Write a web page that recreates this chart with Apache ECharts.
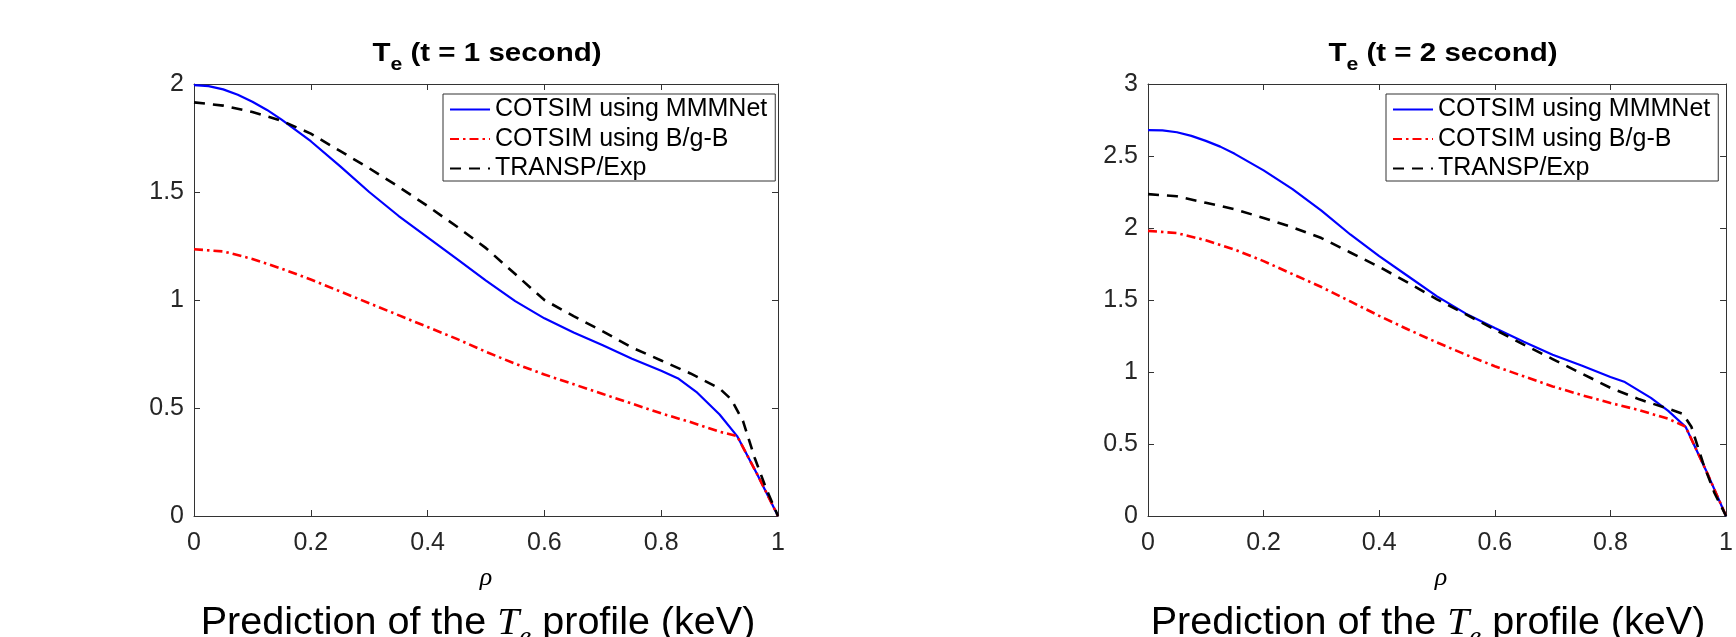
<!DOCTYPE html>
<html>
<head>
<meta charset="utf-8">
<script src="https://cdn.jsdelivr.net/npm/echarts@6/dist/echarts.min.js"></script>
<style>
html,body{margin:0;padding:0;background:#fff;}
#chart{width:1736px;height:637px;}
</style>
</head>
<body>
<div id="chart"></div>
<script>
// ---- data ----
const seriesNames = ['COTSIM using MMMNet', 'COTSIM using B/g-B', 'TRANSP/Exp'];
const xTicks = [0, 0.2, 0.4, 0.6, 0.8, 1];
const yTicks1 = [0, 0.5, 1, 1.5, 2];
const yTicks2 = [0, 0.5, 1, 1.5, 2, 2.5, 3];
const titles = ['1', '2'];

// t = 1 second
const rhoMMM1 = [0,0.025,0.05,0.075,0.1,0.125,0.15,0.2,0.25,0.3,0.35,0.4,0.45,0.5,0.55,0.6,0.65,0.7,0.75,0.8,0.83,0.86,0.9,0.93,0.965,1];
const mmm1    = [1.995,1.99,1.975,1.95,1.918,1.88,1.835,1.735,1.62,1.50,1.39,1.29,1.19,1.09,0.995,0.915,0.85,0.79,0.728,0.672,0.635,0.575,0.47,0.37,0.19,0];
const rhoBgb1 = [0,0.05,0.1,0.15,0.2,0.25,0.3,0.35,0.4,0.45,0.5,0.55,0.6,0.65,0.7,0.75,0.8,0.85,0.9,0.93,0.965,1];
const bgb1    = [1.235,1.225,1.19,1.145,1.095,1.04,0.985,0.93,0.875,0.82,0.76,0.705,0.655,0.61,0.565,0.52,0.475,0.435,0.39,0.37,0.19,0];
const rhoExp1 = [0,0.05,0.1,0.15,0.2,0.25,0.3,0.35,0.4,0.45,0.5,0.55,0.6,0.65,0.7,0.75,0.8,0.85,0.9,0.92,0.94,0.96,0.98,1];
const exp1    = [1.915,1.90,1.87,1.83,1.77,1.69,1.61,1.525,1.435,1.34,1.24,1.12,1.00,0.925,0.855,0.78,0.72,0.66,0.59,0.54,0.44,0.27,0.125,0];

// t = 2 second
const rhoMMM2 = [0,0.025,0.05,0.075,0.1,0.125,0.15,0.2,0.25,0.3,0.35,0.4,0.45,0.5,0.55,0.6,0.65,0.7,0.75,0.8,0.825,0.87,0.9,0.93,0.965,1];
const mmm2    = [2.68,2.678,2.665,2.64,2.605,2.565,2.515,2.40,2.27,2.12,1.955,1.805,1.665,1.525,1.405,1.305,1.21,1.12,1.045,0.965,0.93,0.82,0.73,0.62,0.32,0];
const rhoBgb2 = [0,0.05,0.1,0.15,0.2,0.25,0.3,0.35,0.4,0.45,0.5,0.55,0.6,0.65,0.7,0.75,0.8,0.85,0.9,0.93,0.965,1];
const bgb2    = [1.98,1.965,1.915,1.85,1.77,1.68,1.59,1.49,1.39,1.295,1.205,1.12,1.04,0.97,0.90,0.84,0.785,0.735,0.675,0.62,0.32,0];
const rhoExp2 = [0,0.05,0.1,0.15,0.2,0.25,0.3,0.35,0.4,0.45,0.5,0.55,0.6,0.65,0.7,0.75,0.8,0.85,0.9,0.925,0.94,0.96,0.98,1];
const exp2    = [2.235,2.22,2.175,2.13,2.07,2.005,1.93,1.83,1.73,1.62,1.505,1.40,1.295,1.19,1.09,0.99,0.89,0.81,0.745,0.71,0.62,0.37,0.16,0];

// ---- build ----
const pairs = (xs, ys) => xs.map((x, i) => [x, ys[i]]);
const axisColor = '#333333';
const labelColor = '#262626';
const sans = 'Liberation Sans';

const grids = [
  {left: 194, width: 584, top: 84, height: 432},
  {left: 1148, width: 586, top: 84, height: 432}
];

function xAxes(gi, pos, show) {
  return {
    type: 'value', gridIndex: gi, position: pos,
    min: xTicks[0], max: xTicks[xTicks.length - 1], interval: 0.2,
    axisLine: {show: true, onZero: false, lineStyle: {color: axisColor, width: 1}},
    axisTick: {show: true, inside: true, length: 6, lineStyle: {color: axisColor}},
    axisLabel: {show: show, color: labelColor, fontSize: 25, fontFamily: sans, margin: 15},
    splitLine: {show: false}
  };
}
function yAxes(gi, pos, show, ticks) {
  return {
    type: 'value', gridIndex: gi, position: pos,
    min: ticks[0], max: ticks[ticks.length - 1], interval: 0.5,
    axisLine: {show: true, onZero: false, lineStyle: {color: axisColor, width: 1}},
    axisTick: {show: true, inside: true, length: 6, lineStyle: {color: axisColor}},
    axisLabel: {show: show, color: labelColor, fontSize: 25, fontFamily: sans, margin: 10},
    splitLine: {show: false}
  };
}

const styles = [
  {color: '#0000ff', width: 2.2, type: 'solid'},
  {color: '#ff0000', width: 2.6, type: [9, 4, 2.5, 4]},
  {color: '#000000', width: 2.6, type: [11, 8]}
];

function mkSeries(gi, datas) {
  return datas.map((d, i) => ({
    name: seriesNames[i], type: 'line', xAxisIndex: gi * 2, yAxisIndex: gi * 2,
    data: d, showSymbol: false, symbol: 'none', smooth: false,
    lineStyle: styles[i], itemStyle: {color: styles[i].color},
    animation: false, silent: true
  }));
}

const series = [].concat(
  mkSeries(0, [pairs(rhoMMM1, mmm1), pairs(rhoBgb1, bgb1), pairs(rhoExp1, exp1)]),
  mkSeries(1, [pairs(rhoMMM2, mmm2), pairs(rhoBgb2, bgb2), pairs(rhoExp2, exp2)])
);

function mkLegend(left) {
  return {
    data: seriesNames, orient: 'vertical', left: left, top: 94,
    borderColor: axisColor, borderWidth: 1, borderRadius: 0,
    backgroundColor: '#ffffff',
    padding: [3, 8, 0, 6], itemWidth: 40, itemHeight: 14, itemGap: 4.5,
    itemStyle: {opacity: 0},
    textStyle: {fontSize: 25, lineHeight: 22, color: '#000', fontFamily: sans},
    selectedMode: false
  };
}

function titleText(cx, t) {
  return {
    type: 'text', x: cx, y: 42, scaleX: 1.18, silent: true,
    style: {
      text: '{b|T}{s|e}{b| (t = ' + t + ' second)}',
      align: 'center', textAlign: 'center', verticalAlign: 'top', textVerticalAlign: 'top',
      rich: {
        b: {fontSize: 25, fontWeight: 'bold', fontFamily: sans, lineHeight: 26, verticalAlign: 'top', fill: '#000', color: '#000'},
        s: {fontSize: 18, fontWeight: 'bold', fontFamily: sans, lineHeight: 18, padding: [14, 0, 0, 0], verticalAlign: 'top', fill: '#000', color: '#000'}
      }
    }
  };
}
function rhoText(cx) {
  return {
    type: 'text', x: cx, y: 578, silent: true,
    style: {text: 'ρ', font: 'italic 26px "Liberation Serif"', fill: '#000', align: 'center', textAlign: 'center', verticalAlign: 'middle', textVerticalAlign: 'middle'}
  };
}
function captionText(cx) {
  return {
    type: 'text', x: cx, y: 605, scaleX: 1.04, silent: true,
    style: {
      text: '{a|Prediction of the }{i|T}{s|e}{a| profile (keV)}',
      align: 'center', textAlign: 'center', verticalAlign: 'top', textVerticalAlign: 'top',
      rich: {
        a: {fontSize: 38, fontFamily: sans, lineHeight: 40, verticalAlign: 'top', fill: '#000', color: '#000'},
        i: {fontSize: 38, fontFamily: 'Liberation Serif', fontStyle: 'italic', lineHeight: 40, verticalAlign: 'top', fill: '#000', color: '#000'},
        s: {fontSize: 26, fontFamily: 'Liberation Serif', fontStyle: 'italic', lineHeight: 26, padding: [19, 0, 0, 0], verticalAlign: 'top', fill: '#000', color: '#000'}
      }
    }
  };
}

const option = {
  backgroundColor: '#ffffff',
  animation: false,
  grid: grids,
  xAxis: [xAxes(0, 'bottom', true), xAxes(0, 'top', false), xAxes(1, 'bottom', true), xAxes(1, 'top', false)],
  yAxis: [yAxes(0, 'left', true, yTicks1), yAxes(0, 'right', false, yTicks1), yAxes(1, 'left', true, yTicks2), yAxes(1, 'right', false, yTicks2)],
  legend: [mkLegend(443), mkLegend(1386)],
  series: series,
  graphic: [
    titleText(487, titles[0]), titleText(1443, titles[1]),
    rhoText(486), rhoText(1441),
    captionText(478), captionText(1428)
  ]
};

const chart = echarts.init(document.getElementById('chart'), null, {renderer: 'canvas'});
chart.setOption(option);
</script>
</body>
</html>
